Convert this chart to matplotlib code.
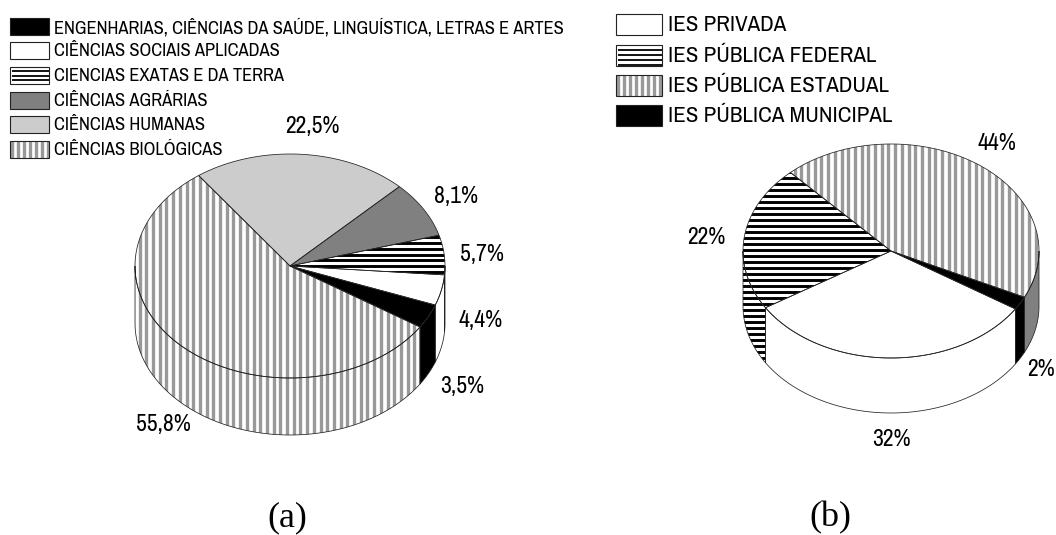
import numpy as np
import matplotlib
matplotlib.use('Agg')
import matplotlib.pyplot as plt
from matplotlib.patches import Polygon

plt.rcParams['font.family'] = ['Archivo Narrow', 'Liberation Sans', 'DejaVu Sans']

# data
cat_a = ['ENGENHARIAS, CIÊNCIAS DA SAÚDE, LINGUÍSTICA, LETRAS E ARTES',
         'CIÊNCIAS SOCIAIS APLICADAS', 'CIENCIAS EXATAS E DA TERRA',
         'CIÊNCIAS AGRÁRIAS', 'CIÊNCIAS HUMANAS', 'CIÊNCIAS BIOLÓGICAS']
val_a = [3.5, 4.4, 5.7, 8.1, 22.5, 55.8]
txt_a = ['3,5%', '4,4%', '5,7%', '8,1%', '22,5%', '55,8%']

cat_b = ['IES PRIVADA', 'IES PÚBLICA FEDERAL', 'IES PÚBLICA ESTADUAL', 'IES PÚBLICA MUNICIPAL']
val_b = [32, 2, 44, 22]   # drawing order around the pie
txt_b = ['32%', '2%', '44%', '22%']

# styles
sty_a = ['black', 'white', 'hlines', '#808080', '#cccccc', 'vlines']
sty_b = ['white', 'black', 'vlines', 'hlines']
wall_b = ['white', 'black', '#808080', 'hlines']
leg_sty_b = ['white', 'hlines', 'vlines', 'black']

fig = plt.figure(figsize=(10.56, 5.35), dpi=100)
ax = fig.add_axes([0, 0, 1, 1])
ax.set_xlim(0, 1056)
ax.set_ylim(535, 0)
ax.axis('off')


def fill(xy, sty, box, lw=0.55, period_h=6.0, period_v=6.7, lw_h=2.1):
    p = Polygon(xy, closed=True, fc='white' if sty in ('hlines', 'vlines') else sty,
                ec='none', zorder=2)
    ax.add_patch(p)
    if sty == 'hlines':
        ys = np.arange(box[2], box[3], period_h)
        c = ax.hlines(ys, box[0], box[1], color='black', lw=lw_h, zorder=3)
        c.set_clip_path(p)
    elif sty == 'vlines':
        xs = np.arange(box[0], box[1], period_v)
        c = ax.vlines(xs, box[2], box[3], color='#999999', lw=2.4, zorder=3)
        c.set_clip_path(p)
    ax.add_patch(Polygon(xy, closed=True, fc='none', ec='#222222', lw=lw, zorder=4))


def pie(cx, cy, rx, ry, depth, values, start, styles, walls, period_h):
    box = (cx - rx - 2, cx + rx + 2, cy - ry - 2, cy + ry + depth + 2)
    angs = start + np.cumsum([0] + list(np.array(values) * 3.6))
    for i in range(len(values)):
        a0, a1 = angs[i], angs[i + 1]
        # side wall: only the part facing the viewer
        for lo, hi in ((a0, a1), (a0 - 360, a1 - 360), (a0 + 360, a1 + 360)):
            w0, w1 = max(lo, 180), min(hi, 360)
            if w1 > w0:
                t = np.radians(np.linspace(w0, w1, 80))
                x = cx + rx * np.cos(t)
                y = cy - ry * np.sin(t)
                xy = np.r_[np.c_[x, y], np.c_[x, y + depth][::-1]]
                fill(xy, walls[i], box, period_h=period_h)
    for i in range(len(values)):
        t = np.radians(np.linspace(angs[i], angs[i + 1], 160))
        xy = np.r_[[[cx, cy]], np.c_[cx + rx * np.cos(t), cy - ry * np.sin(t)]]
        fill(xy, styles[i], box, period_h=period_h)


def legend(x, ys, w, h, names, styles, tx, size, period_h):
    for yc, name, sty in zip(ys, names, styles):
        y0, y1 = yc - h / 2, yc + h / 2
        xy = [(x, y0), (x + w, y0), (x + w, y1), (x, y1)]
        fill(xy, sty, (x + 2, x + w, y0, y1), lw=0.8, period_h=period_h, period_v=6.0, lw_h=1.3)
        ax.text(tx, yc + 1, name, fontsize=size, va='center', ha='left', color='black')


pie(290, 266, 155, 112, 57, val_a, -33, sty_a, sty_a, 5.7)
pie(891, 251, 148, 107, 55, val_b, 212, sty_b, wall_b, 6.0)

legend(10, [26, 50, 75, 100, 124, 149], 39, 17, cat_a, sty_a, 54, 13.3, 4.5)
legend(616, [24, 55, 85, 115], 46, 21, cat_b, leg_sty_b, 668, 16.5, 5.0)

pos_a = [(462, 386), (481, 321), (482, 254), (456, 196), (312, 126), (163, 424)]
pos_b = [(891, 439), (1041, 370), (997, 143), (706, 237)]
for (x, y), s in zip(pos_a + pos_b, txt_a + txt_b):
    ax.text(x, y, s, fontsize=17, ha='center', va='center', color='black')

ax.text(287, 518, '(a)', fontsize=26, family=['Liberation Serif'], ha='center', va='center')
ax.text(830, 518, '(b)', fontsize=26, family=['Liberation Serif'], ha='center', va='center')

plt.savefig('out.png', dpi=100)
